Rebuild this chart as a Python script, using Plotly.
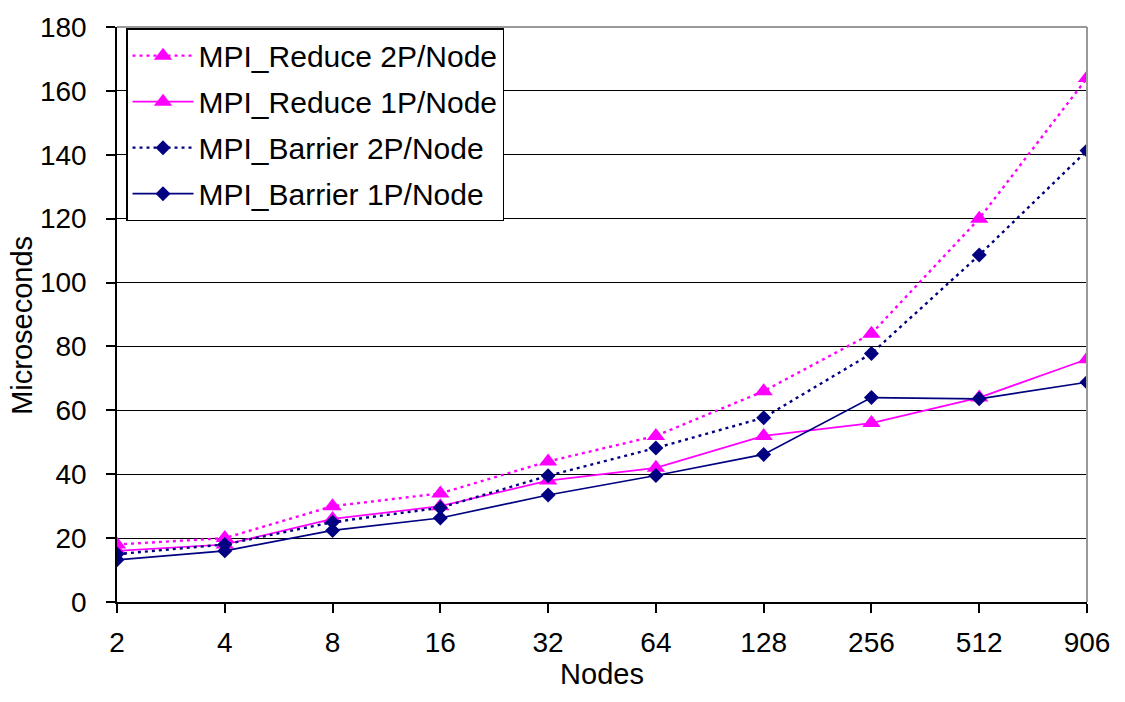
import plotly.graph_objects as go

nodes = ["2", "4", "8", "16", "32", "64", "128", "256", "512", "906"]
reduce_2p = [18, 20, 30, 34, 44, 52, 66, 84, 120, 164]
reduce_1p = [16, 18, 26, 30, 38, 42, 52, 56, 64, 76]
barrier_2p = [15, 18, 25, 29.5, 39.5, 48.2, 57.7, 77.8, 108.6, 141.3]
barrier_1p = [13.2, 16, 22.4, 26.3, 33.5, 39.6, 46.2, 64, 63.6, 68.8]

MAG = "#FF00FF"
NAVY = "#000080"
idx = list(range(len(nodes)))

fig = go.Figure()
series = [
    ("MPI_Reduce 2P/Node", reduce_2p, MAG, "dot", "triangle-up", 16),
    ("MPI_Reduce 1P/Node", reduce_1p, MAG, "solid", "triangle-up", 16),
    ("MPI_Barrier 2P/Node", barrier_2p, NAVY, "dot", "diamond", 11.5),
    ("MPI_Barrier 1P/Node", barrier_1p, NAVY, "solid", "diamond", 11.5),
]
for i, (name, vals, col, dash, sym, sz) in enumerate(series):
    fig.add_trace(go.Scatter(
        x=idx, y=vals, name=name, mode="lines+markers", legendgroup=f"g{i}",
        line=dict(color=col, width=1.7 if dash == "solid" else 2.4,
                  dash="3px,4px" if dash == "dot" else dash),
        marker=dict(symbol=sym, size=sz, color=col, line=dict(width=0)),
    ))

font = dict(family="Liberation Sans, Arial, sans-serif", size=28, color="black")
fig.update_layout(
    width=1125, height=702,
    margin=dict(l=117, r=38, t=19, b=100),
    paper_bgcolor="white", plot_bgcolor="white",
    font=font,
    showlegend=True,
    legend=dict(
        x=0.0093, y=0.998, xanchor="left", yanchor="top",
        bgcolor="white", bordercolor="black", borderwidth=1.5,
        font=dict(size=30), tracegroupgap=4, itemwidth=61,
    ),
    xaxis=dict(
        tickmode="array", tickvals=idx, ticktext=nodes,
        range=[0, len(nodes) - 1],
        showgrid=False, zeroline=False,
        showline=True, linecolor="black", linewidth=1.5,
        ticks="outside", ticklen=9, tickcolor="black", tickwidth=1.5,
        ticklabelstandoff=6, tickfont=dict(size=28),
        title=dict(text="Nodes", font=dict(size=29), standoff=4),
    ),
    yaxis=dict(
        range=[0, 180], dtick=20, tick0=0,
        showgrid=True, gridcolor="black", gridwidth=1,
        zeroline=False,
        showline=True, linecolor="black", linewidth=1.5,
        ticks="outside", ticklen=9, tickcolor="black", tickwidth=1.5,
        ticklabelstandoff=14, tickfont=dict(size=28),
    ),
)
fig.add_annotation(
    text="Microseconds", textangle=-90, showarrow=False,
    xref="paper", yref="paper", x=(22 - 117) / 970, y=(602 - 322) / 583,
    xanchor="center", yanchor="middle", font=dict(size=29),
)
# plot-area border (gray) on top and right
fig.add_shape(type="line", xref="paper", yref="paper", x0=1, x1=1, y0=0, y1=1,
              line=dict(color="#999999", width=2))
fig.add_shape(type="line", xref="paper", yref="paper", x0=0, x1=1, y0=1, y1=1,
              line=dict(color="#999999", width=2))

fig.write_html("out.html")
